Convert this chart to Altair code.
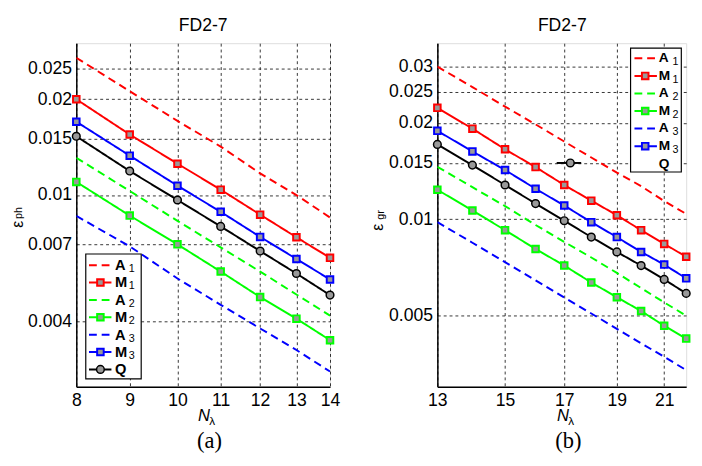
import altair as alt
import pandas as pd

# ---------------- data ----------------
N_a = [8, 9, 10, 11, 12, 13, 14]
A1_a = [0.0270, 0.0212, 0.0171, 0.0142, 0.0117, 0.0100, 0.0085]
M1_a = [0.0200, 0.0155, 0.01255, 0.0104, 0.00868, 0.00737, 0.00635]
A2_a = [0.0131, 0.0103, 0.0083, 0.00685, 0.00575, 0.00487, 0.00418]
M2_a = [0.0110, 0.00862, 0.0070, 0.00575, 0.00478, 0.00409, 0.00350]
A3_a = [0.0086, 0.0069, 0.00547, 0.00452, 0.00381, 0.00326, 0.00279]
M3_a = [0.0170, 0.0133, 0.0107, 0.00886, 0.00739, 0.0063, 0.00543]
Q_a = [0.0153, 0.0119, 0.00965, 0.00797, 0.00667, 0.00567, 0.00485]

N_b = [13, 14, 15, 16, 17, 18, 19, 20, 21, 22]
A1_b = [0.0300, 0.0259, 0.0225, 0.0198, 0.0175, 0.0156, 0.0140, 0.0127, 0.0114, 0.0104]
M1_b = [0.0223, 0.0192, 0.01655, 0.01456, 0.0128, 0.01144, 0.0103, 0.00925, 0.00838, 0.00764]
A2_b = [0.0146, 0.0126, 0.0110, 0.0096, 0.0085, 0.0076, 0.0068, 0.0061, 0.0055, 0.0050]
M2_b = [0.01237, 0.01066, 0.00925, 0.00808, 0.00717, 0.00635, 0.00571, 0.00517, 0.00465, 0.00424]
A3_b = [0.0098, 0.00845, 0.00735, 0.00645, 0.0057, 0.00508, 0.00455, 0.0041, 0.00372, 0.00338]
M3_b = [0.0189, 0.0163, 0.01426, 0.01246, 0.01104, 0.0098, 0.0088, 0.00791, 0.00722, 0.00654]
Q_b = [0.01714, 0.01477, 0.0128, 0.0112, 0.0099, 0.0088, 0.00791, 0.00717, 0.00649, 0.00587]

# misplaced legend symbol of Q in panel (b)
stray_N = [16.73, 17.62]
stray_mid = [17.22]
stray_err = 0.015

x_ticks_a = [8, 9, 10, 11, 12, 13, 14]
y_ticks_a = [0.004, 0.007, 0.01, 0.015, 0.02, 0.025]
x_ticks_b = [13, 15, 17, 19, 21]
y_ticks_b = [0.005, 0.01, 0.015, 0.02, 0.025, 0.03]

names = ["A1", "M1", "A2", "M2", "A3", "M3", "Q"]
letters = ["A", "M", "A", "M", "A", "M", "Q"]
subs = ["1", "1", "2", "2", "3", "3", ""]
colors = ["#ff0000", "#ff0000", "#00ff00", "#00ff00", "#0000ff", "#0000ff", "#000000"]
dashes = [[8, 5], [1, 0], [8, 5], [1, 0], [8, 5], [1, 0], [1, 0]]

FONT = "Liberation Sans"
GRAY = "#999999"

color_enc = alt.Color("series:N", scale=alt.Scale(domain=names, range=colors), legend=None)
dash_enc = alt.StrokeDash("series:N", scale=alt.Scale(domain=names, range=dashes), legend=None)


def long_df(N, series):
    rows = []
    for name, vals in zip(names, series):
        for n, v in zip(N, vals):
            rows.append({"N": n, "err": v, "series": name})
    return pd.DataFrame(rows)


def txt(t, x, y, size, **kw):
    return alt.Chart(pd.DataFrame({"t": [t]})).mark_text(
        fontSize=size, color="black", **kw
    ).encode(x=alt.value(x), y=alt.value(y), text="t:N")


def panel(N, series, xdom, ydom, xvals, yvals, W, H, P):
    df = long_df(N, series)
    common = dict(grid=True, gridDash=[3, 3], gridColor="#000000", gridOpacity=1,
                  gridWidth=0.8, ticks=False, tickSize=0, domain=True, domainColor="black",
                  domainWidth=1.5, labelFont=FONT, labelFontSize=18,
                  labelColor="black", labelOverlap=False, title=None)
    xax = alt.Axis(values=xvals, format="d", labelFlush=False, labelPadding=5.5, **common)
    yax = alt.Axis(values=yvals, format="~g", labelPadding=5, **common)
    xs = alt.Scale(type="log", domain=xdom, nice=False)
    ys = alt.Scale(type="log", domain=ydom, nice=False)
    base = alt.Chart(df).encode(x=alt.X("N:Q", scale=xs, axis=xax),
                                y=alt.Y("err:Q", scale=ys, axis=yax))
    lines = base.mark_line(strokeWidth=2, clip=True).encode(color=color_enc, strokeDash=dash_enc)
    squares = base.transform_filter(
        alt.FieldOneOfPredicate(field="series", oneOf=["M1", "M2", "M3"])
    ).mark_point(shape="square", size=45, strokeWidth=2, fill=GRAY, fillOpacity=1,
                 opacity=1).encode(color=color_enc)
    circles = base.transform_filter(alt.datum.series == "Q").mark_point(
        shape="circle", size=62, strokeWidth=1.5, fill=GRAY, fillOpacity=1,
        stroke="black", opacity=1)

    layers = [lines, squares, circles]

    if P.get("stray"):
        sdf = pd.DataFrame({"N": stray_N, "err": [stray_err] * len(stray_N)})
        mdf = pd.DataFrame({"N": stray_mid, "err": [stray_err]})
        layers.append(alt.Chart(sdf).mark_line(strokeWidth=2, color="black").encode(
            x=alt.X("N:Q", scale=xs, axis=xax), y=alt.Y("err:Q", scale=ys, axis=yax)))
        layers.append(alt.Chart(mdf).mark_point(shape="circle", size=62, strokeWidth=1.5,
                                                fill=GRAY, fillOpacity=1, stroke="black",
                                                opacity=1).encode(
            x=alt.X("N:Q", scale=xs, axis=xax), y=alt.Y("err:Q", scale=ys, axis=yax)))

    # legend
    L = P["legend"]
    ldf = pd.DataFrame({"series": names, "letter": letters, "sub": subs,
                        "ly": [L["y0"] + L["step"] * i for i in range(7)]})
    ldf["sx"] = L["tx"] + 14
    box = alt.Chart(pd.DataFrame({"a": [0]})).mark_rect(
        fill="white", stroke="black", strokeWidth=1.2).encode(
        x=alt.value(L["bx1"]), x2=alt.value(L["bx2"]), y=alt.value(L["by1"]), y2=alt.value(L["by2"]))
    line_rows = ldf if L["q_symbol"] else ldf[ldf.series != "Q"]
    leg_lines = alt.Chart(line_rows).mark_rule(strokeWidth=2).encode(
        x=alt.value(L["lx1"]), x2=alt.value(L["lx2"]),
        y=alt.Y("ly:Q", scale=None, axis=None), color=color_enc, strokeDash=dash_enc)
    leg_sq = alt.Chart(ldf[ldf.series.isin(["M1", "M2", "M3"])]).mark_point(
        shape="square", size=45, strokeWidth=2, fill=GRAY, fillOpacity=1, opacity=1).encode(
        x=alt.value(L["mx"]), y=alt.Y("ly:Q", scale=None, axis=None), color=color_enc)
    leg_layers = [box, leg_lines, leg_sq]
    if L["q_symbol"]:
        leg_layers.append(alt.Chart(ldf[ldf.series == "Q"]).mark_point(
            shape="circle", size=62, strokeWidth=1.5, fill=GRAY, fillOpacity=1,
            stroke="black", opacity=1).encode(
            x=alt.value(L["mx"]), y=alt.Y("ly:Q", scale=None, axis=None)))
    leg_txt = alt.Chart(ldf).mark_text(align="left", baseline="middle", font=FONT,
                                       fontSize=L["fs"], fontWeight="bold", color="black").encode(
        x=alt.value(L["tx"]), y=alt.Y("ly:Q", scale=None, axis=None), text="letter:N")
    leg_sub = alt.Chart(ldf[ldf["sub"] != ""]).mark_text(align="left", baseline="middle", font=FONT,
                                                        fontSize=11, dy=4, color="black").encode(
        x=alt.X("sx:Q", scale=None, axis=None), y=alt.Y("ly:Q", scale=None, axis=None), text="sub:N")
    leg_layers += [leg_txt, leg_sub]

    texts = [
        txt("FD2-7", P["tx"], -12.5, 18, font=FONT, align="center", baseline="alphabetic"),
        txt("\u03b5", P["eps"][0], P["eps"][1], 16, font=FONT, angle=270, align="center", baseline="middle"),
        txt(P["ysub"], P["esub"][0], P["esub"][1], 11, font=FONT, angle=270, align="center", baseline="middle"),
        txt("N", P["nx"], H + 35.5, 17, font=FONT, fontStyle="italic", align="left", baseline="alphabetic"),
        txt("\u03bb", P["nx"] + 11.5, H + 38.8, 12, font=FONT, align="left", baseline="alphabetic"),
        txt(P["tag"], P["tagx"], H + 62.5, 23, font="Liberation Serif", align="center", baseline="alphabetic"),
    ]
    return alt.layer(*layers, *leg_layers, *texts).properties(width=W, height=H)


H = 352
left = panel(N_a, [A1_a, M1_a, A2_a, M2_a, A3_a, M3_a, Q_a], [8, 14], [0.0025, 0.03],
             x_ticks_a, y_ticks_a, 260, H,
             dict(tx=130, eps=(-60, 185.5), esub=(-59, 174), ysub="ph", nx=124.7,
                  tag="(a)", tagx=136.5,
                  legend=dict(bx1=9.7, bx2=66.5, by1=216, by2=344, y0=227.5, step=17.8,
                              lx1=13, lx2=36, mx=24.7, tx=39.7, fs=15, q_symbol=True)))
right = panel(N_b, [A1_b, M1_b, A2_b, M2_b, A3_b, M3_b, Q_b], [13, 22], [0.003, 0.0355],
              x_ticks_b, y_ticks_b, 255, H,
              dict(tx=128, eps=(-61, 188.7), esub=(-57.5, 176), ysub="gr", nx=122.7,
                   tag="(b)", tagx=134.3, stray=True,
                   legend=dict(bx1=198, bx2=250, by1=5, by2=132, y0=15.5, step=18,
                               lx1=202, lx2=225, mx=213, tx=227, fs=14, q_symbol=False)))

chart = alt.hconcat(left, right, spacing=29).properties(
    padding={"left": 1, "top": 3.5, "right": 0, "bottom": 0}
).configure_view(stroke="black", strokeWidth=1.5).configure(font=FONT)

chart.save("out.html", embed_options={"renderer": "svg", "actions": False})
